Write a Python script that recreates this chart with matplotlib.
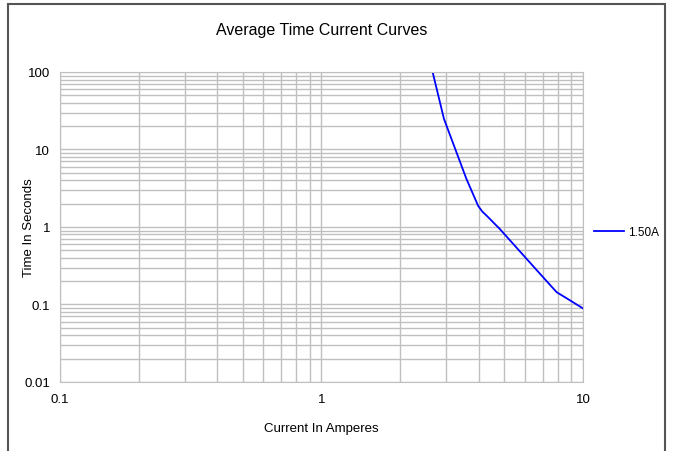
import matplotlib
matplotlib.use("Agg")
from matplotlib import pyplot as plt
from matplotlib.ticker import LogLocator, FuncFormatter, NullFormatter
import matplotlib.patches as patches

plt.rcParams['font.family'] = ['Liberation Sans', 'DejaVu Sans']

# data
current = [2.66, 2.94, 3.58, 3.97, 4.12, 4.28, 4.81, 6.84, 7.93, 8.6, 10]
time_s = [100, 24.8, 4.2, 1.88, 1.58, 1.40, 0.94, 0.25, 0.144, 0.122, 0.089]
series_name = '1.50A'

fig = plt.figure(figsize=(6.74, 4.52), dpi=100)
ax = fig.add_axes([0.089, 0.1527, 0.776, 0.6858])

ax.plot(current, time_s, color='#0000ff', lw=1.3, label=series_name)
ax.set_xscale('log')
ax.set_yscale('log')
ax.set_xlim(0.1, 10)
ax.set_ylim(0.01, 100)

ax.xaxis.set_major_locator(LogLocator(base=10))
ax.yaxis.set_major_locator(LogLocator(base=10))
ax.xaxis.set_minor_locator(LogLocator(base=10, subs=range(2, 10)))
ax.yaxis.set_minor_locator(LogLocator(base=10, subs=range(2, 10)))
fmt = FuncFormatter(lambda v, p: '%g' % v)
ax.xaxis.set_major_formatter(fmt)
ax.yaxis.set_major_formatter(fmt)
ax.xaxis.set_minor_formatter(NullFormatter())
ax.yaxis.set_minor_formatter(NullFormatter())

ax.grid(True, which='both', color='#c0c0c0', lw=1)
ax.set_axisbelow(True)
for s in ax.spines.values():
    s.set_color('#c0c0c0')
ax.tick_params(which='both', length=0, labelsize=9.5)
ax.tick_params(axis='y', pad=7)
ax.tick_params(axis='x', pad=8)

ax.set_title('Average Time Current Curves', fontsize=11.5, pad=27)
ax.set_xlabel('Current In Amperes', fontsize=9.5)
ax.set_ylabel('Time In Seconds', fontsize=9.5)
ax.yaxis.set_label_coords(-0.048, 0.5)
ax.xaxis.set_label_coords(0.5, -0.128)

fig.legend(loc='center left', bbox_to_anchor=(0.865, 0.485), frameon=False,
           fontsize=8.5, handlelength=2.6, handletextpad=0.3)

# outer frame
fig.patches.append(patches.Rectangle((0.012, -0.05), 0.975, 1.039, transform=fig.transFigure,
                                     fill=False, edgecolor='#555555', lw=1.5))

plt.savefig('out.png')
